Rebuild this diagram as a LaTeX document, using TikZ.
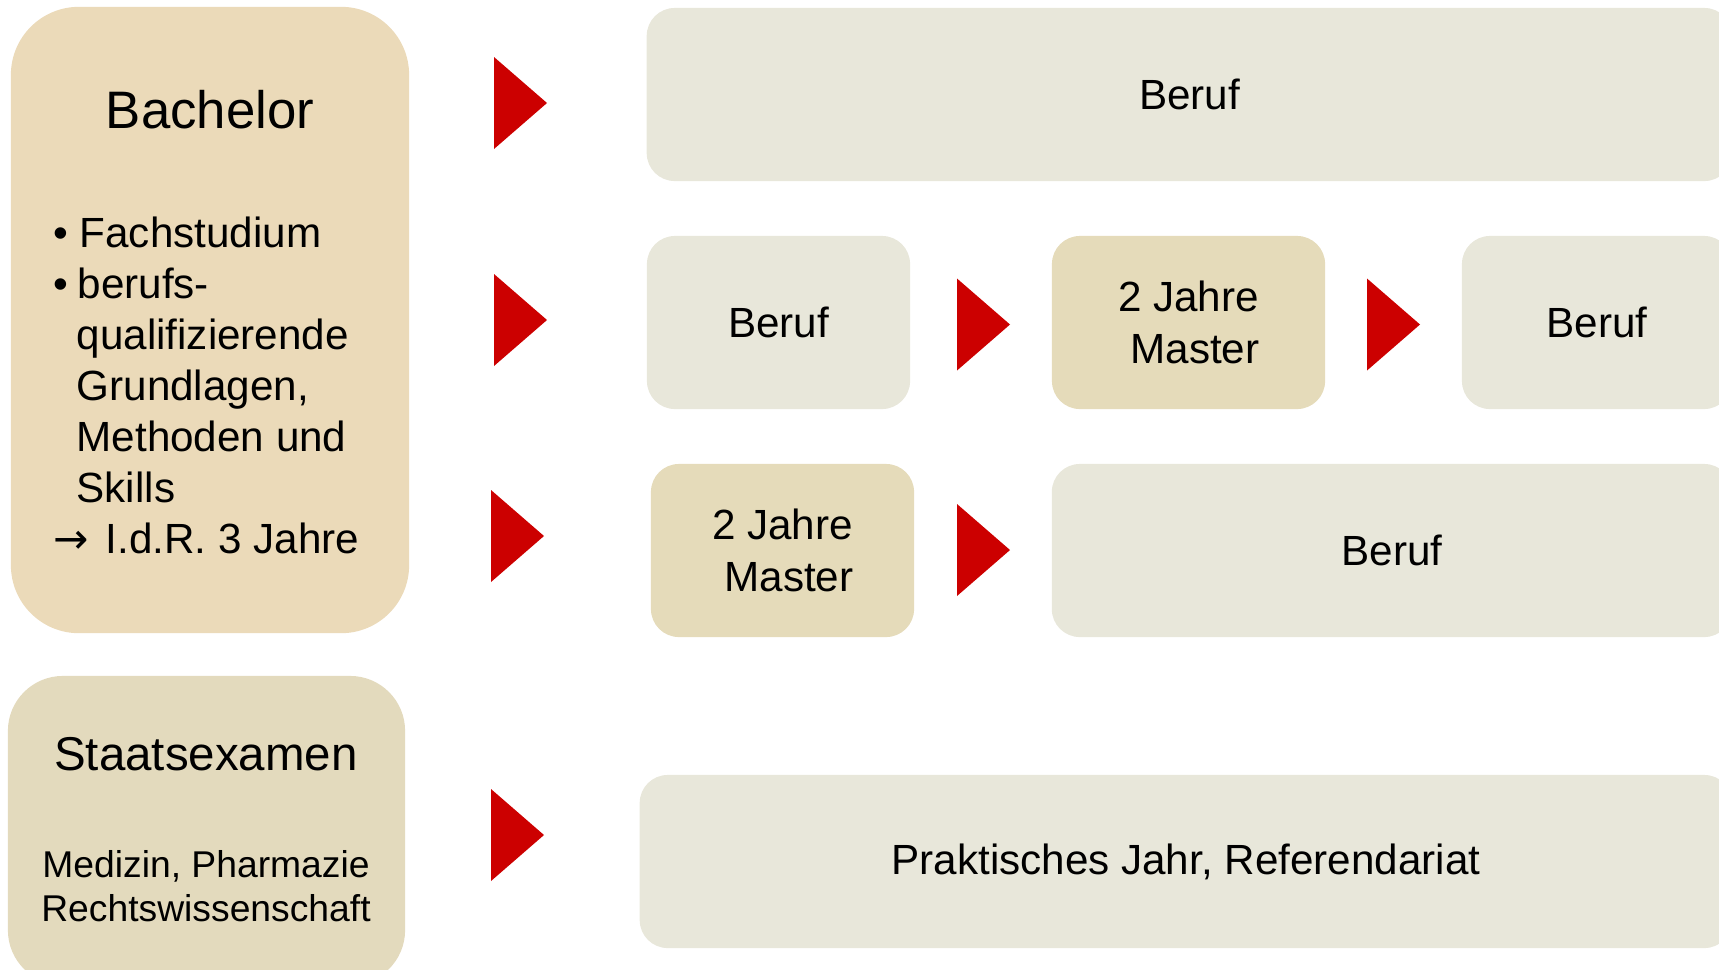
\documentclass[tikz,border=0pt]{standalone}
\usepackage{fontspec}
\setmainfont{Liberation Sans}
\newfontfamily\pfeilfont{DejaVu Sans}
\definecolor{bachelorsand}{RGB}{235,218,185}
\definecolor{examsand}{RGB}{227,218,189}
\definecolor{mastersand}{RGB}{229,219,186}
\definecolor{berufgrey}{RGB}{232,231,218}
\definecolor{pfeilrot}{RGB}{204,0,0}

\begin{document}
\begin{tikzpicture}[x=0.01cm,y=-0.01cm,
  feld/.style={rounded corners=0.28cm, minimum height=1.73cm, inner sep=0pt,
    font=\fontsize{12}{14.8}\selectfont, align=center},
  beruf/.style={feld, fill=berufgrey},
  master/.style={feld, fill=mastersand}]
\useasboundingbox (0,0) rectangle (1719,969);
% Abschluesse links
\node[fill=bachelorsand, rounded corners=0.68cm, minimum width=3.98cm, minimum height=6.26cm] (bachelor) at (210,320) {};
\node[anchor=base, font=\fontsize{15}{18}\selectfont] (bachelor title) at (210,128) {Bachelor};
% base = Grundlinie der letzten Zeile
\node[anchor=base west, align=left, inner sep=0pt, font=\fontsize{12}{14.5}\selectfont] (bachelor list) at (53,553)
  {\makebox[0.26cm][l]{\textbullet}Fachstudium\\
   \makebox[0.24cm][l]{\textbullet}berufs-\\
   \hspace*{0.23cm}qualifizierende\\
   \hspace*{0.23cm}Grundlagen,\\
   \hspace*{0.23cm}Methoden und\\
   \hspace*{0.23cm}Skills\\
   \makebox[0.52cm][l]{\pfeilfont →}I.d.R. 3 Jahre};
\node[fill=examsand, rounded corners=0.55cm, minimum width=3.97cm, minimum height=3.09cm] (examen) at (206.5,830.5) {};
\node[anchor=base, font=\fontsize{13.5}{16}\selectfont] (examen title) at (206,770) {Staatsexamen};
\node[anchor=base, align=center, inner sep=0pt, font=\fontsize{10.6}{12.5}\selectfont] (examen faecher) at (206,921)
  {Medizin, Pharmazie\\Rechtswissenschaft};
% Wege rechts
\node[beruf, minimum width=10.85cm] (beruf direkt) at (1189.5,94.5) {Beruf};
\node[beruf, minimum width=2.63cm] (beruf vorher) at (778.5,322.5) {Beruf};
\node[master, minimum width=2.73cm] (master zwischen) at (1188.5,322.5) {2 Jahre\\\hspace*{0.13cm}Master};
\node[beruf, minimum width=2.70cm] (beruf danach) at (1597,322.5) {Beruf};
\node[master, minimum width=2.63cm] (master direkt) at (782.5,550.5) {2 Jahre\\\hspace*{0.13cm}Master};
\node[beruf, minimum width=6.80cm] (beruf master) at (1392,550.5) {Beruf};
\node[beruf, minimum width=10.92cm] (praxis) at (1186,861.5) {Praktisches Jahr, Referendariat};
% rote Pfeile
\foreach \x/\y in {494/103, 494/320, 957/324.5, 1367/324.5, 491/536, 957/550, 491/835} {
  \fill[pfeilrot] (\x,\y-46) -- ++(53,46) -- ++(-53,46) -- cycle;
}
\end{tikzpicture}
\end{document}
